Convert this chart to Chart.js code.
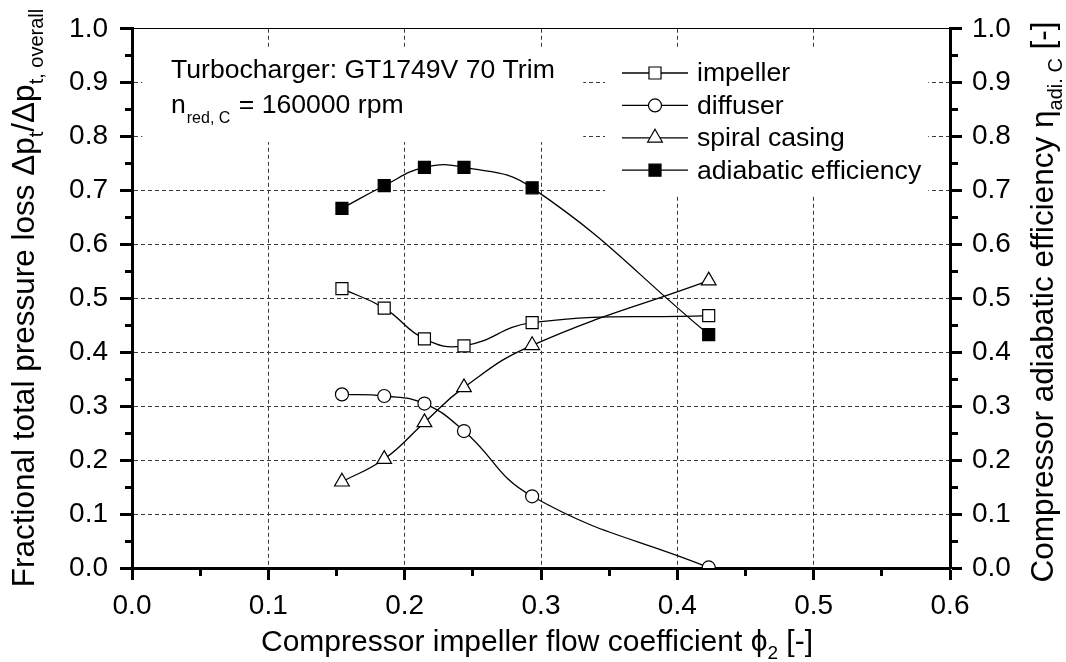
<!DOCTYPE html>
<html>
<head>
<meta charset="utf-8">
<script src="https://cdn.jsdelivr.net/npm/chart.js@4"></script>
<style>
  html, body { margin: 0; padding: 0; background: #fff; }
  #wrap { width: 1066px; height: 662px; }
</style>
</head>
<body>
<div id="wrap"><canvas id="lossChart" width="1066" height="662"></canvas></div>
<script>
// flow coefficient phi_2 of the measured operating points
var phi = [0.154, 0.185, 0.2145, 0.2435, 0.2935, 0.423];
// fractional total pressure loss per component
var impeller = [0.518, 0.482, 0.425, 0.412, 0.455, 0.468];
var diffuser = [0.322, 0.319, 0.305, 0.254, 0.133, 0.001];
var spiral = [0.160, 0.202, 0.270, 0.335, 0.413, 0.533];
// compressor adiabatic efficiency (right axis)
var efficiency = [0.667, 0.709, 0.743, 0.743, 0.705, 0.433];

var xTicks = [0, 0.1, 0.2, 0.3, 0.4, 0.5, 0.6];
var yTicks = [0, 0.1, 0.2, 0.3, 0.4, 0.5, 0.6, 0.7, 0.8, 0.9, 1.0];

var FONT = '"Liberation Sans", Arial, sans-serif';

function pts(ys) {
    return phi.map((x, i) => ({ x: x, y: ys[i] }));
}

function isMajor(v) {
    return Math.abs(v * 10 - Math.round(v * 10)) < 1e-6;
}

// major tick: full length; minor tick: only the part next to the axis
var TL = 12;
function tickDash(ctx, side) {
    if (isMajor(ctx.tick.value)) return [];
    if (side === 'left') return [0, TL - 7, 6, 100];
    return [6, 100];
}

function axisOpts(side, gridOn) {
    return {
        type: 'linear',
        position: side,
        min: 0,
        max: side === 'bottom' ? 0.6 : 1.0,
        afterBuildTicks: function (scale) {
            var t = [];
            var n = side === 'bottom' ? 12 : 20;
            for (var i = 0; i <= n; i++) t.push({ value: +(i * 0.05).toFixed(2) });
            scale.ticks = t;
        },
        ticks: {
            autoSkip: false,
            maxRotation: 0,
            color: '#000',
            padding: side === 'bottom' ? 9 : (side === 'left' ? 12 : 10),
            font: { family: FONT, size: 28 },
            callback: function (v) {
                var list = side === 'bottom' ? xTicks : yTicks;
                var hit = list.find(t => Math.abs(t - v) < 1e-6);
                return hit === undefined ? '' : hit.toFixed(1);
            }
        },
        grid: {
            drawOnChartArea: gridOn,
            color: function (ctx) {
                var v = ctx.tick.value;
                if (!isMajor(v)) return 'rgba(0,0,0,0)';
                if (side === 'bottom' && (v < 0.01 || v > 0.59)) return 'rgba(0,0,0,0)';
                if (side !== 'bottom' && v < 0.01) return 'rgba(0,0,0,0)';
                if (side !== 'bottom' && v > 0.99) return '#000';
                return '#3a3a3a';
            },
            lineWidth: 1,
            tickColor: '#000',
            tickWidth: 3,
            tickLength: TL,
            tickBorderDash: function (ctx) { return tickDash(ctx, side); }
        },
        border: {
            display: true,
            color: '#000',
            width: 3,
            dash: function (ctx) {
                if (side !== 'bottom' && ctx.tick && ctx.tick.value > 0.99) return [];
                return [4, 3];
            }
        },
        afterFit: function (scale) {
            if (side === 'bottom') scale.height = 94;
            if (side === 'left') scale.width = 132;
            if (side === 'right') scale.width = 116;
        }
    };
}

var series = [
    { label: 'impeller', data: impeller, style: 'rect', r: 8.5, fill: '#fff', axis: 'y' },
    { label: 'diffuser', data: diffuser, style: 'circle', r: 6.5, fill: '#fff', axis: 'y' },
    { label: 'spiral casing', data: spiral, style: 'triangle', r: 8.5, fill: '#fff', axis: 'y' },
    { label: 'adiabatic efficiency', data: efficiency, style: 'rect', r: 8.5, fill: '#000', axis: 'y2' }
];

// draw text runs with subscripts; rot = true writes bottom to top
function drawRich(ctx, runs, cx, cy, size, rot, subRatio) {
    var subSize = Math.round(size * (subRatio || 0.62));
    var w = 0;
    runs.forEach(r => {
        ctx.font = (r[1] ? subSize : size) + 'px ' + FONT;
        r.w = ctx.measureText(r[0]).width;
        w += r.w;
    });
    ctx.save();
    ctx.translate(cx, cy);
    if (rot) ctx.rotate(-Math.PI / 2);
    ctx.fillStyle = '#000';
    ctx.textBaseline = 'alphabetic';
    var x = -w / 2;
    runs.forEach(r => {
        ctx.font = (r[1] ? subSize : size) + 'px ' + FONT;
        ctx.fillText(r[0], x, r[1] ? size * 0.28 : 0);
        x += r.w;
    });
    ctx.restore();
}

var overlay = {
    id: 'overlay',
    beforeDatasetsDraw: function (chart) {
        var ctx = chart.ctx;
        var xs = chart.scales.x, ys = chart.scales.y;
        ctx.save();
        // white boxes behind the note and the legend
        ctx.fillStyle = '#fff';
        ctx.fillRect(xs.getPixelForValue(0.0075), ys.getPixelForValue(0.965),
            xs.getPixelForValue(0.331) - xs.getPixelForValue(0.0075), ys.getPixelForValue(0.79) - ys.getPixelForValue(0.965));
        ctx.fillRect(xs.getPixelForValue(0.347), ys.getPixelForValue(0.965),
            xs.getPixelForValue(0.584) - xs.getPixelForValue(0.347), ys.getPixelForValue(0.69) - ys.getPixelForValue(0.965));

        // note
        ctx.fillStyle = '#000';
        ctx.textAlign = 'left';
        ctx.textBaseline = 'alphabetic';
        ctx.font = '26.6px ' + FONT;
        var nx = 171;
        ctx.fillText('Turbocharger: GT1749V 70 Trim', nx, 78);
        ctx.fillText('n', nx, 113);
        var nw = ctx.measureText('n').width;
        ctx.font = '16px ' + FONT;
        ctx.fillText('red, C', nx + nw + 1, 123);
        var sw = ctx.measureText('red, C').width;
        ctx.font = '26.6px ' + FONT;
        ctx.fillText(' = 160000 rpm', nx + nw + sw + 2, 113);

        // legend
        series.forEach(function (s, i) {
            var cy = 73 + i * 32.4;
            ctx.strokeStyle = '#000';
            ctx.lineWidth = 1.3;
            ctx.beginPath();
            ctx.moveTo(622, cy);
            ctx.lineTo(688, cy);
            ctx.stroke();
            ctx.fillStyle = s.fill;
            ctx.lineWidth = 1.2;
            Chart.helpers.drawPoint(ctx, { pointStyle: s.style, radius: s.r, rotation: 0, borderWidth: 1.2 }, 655, cy);
            ctx.fillStyle = '#000';
            ctx.font = '26.6px ' + FONT;
            ctx.textBaseline = 'middle';
            ctx.fillText(s.label, 697, cy + 1);
        });
        ctx.restore();
    },
    afterDraw: function (chart) {
        var ctx = chart.ctx;
        var a = chart.chartArea;
        drawRich(ctx, [['Fractional total pressure loss \u0394p', 0], ['t', 1], ['/\u0394p', 0], ['t, overall', 1]], 34, 298, 31.5, true, 0.64);
        drawRich(ctx, [['Compressor adiabatic efficiency \u03b7', 0], ['adi. C', 1], [' [-]', 0]], 1053, 302, 31.5, true, 0.64);
        drawRich(ctx, [['Compressor impeller flow coefficient \u03d5', 0], ['2', 1], [' [-]', 0]], (a.left + a.right) / 2 - 4, 651, 30, false);
    }
};

var ctx = document.getElementById('lossChart').getContext('2d');
var chart = new Chart(ctx, {
    type: 'line',
    data: {
        datasets: series.map(s => ({
            label: s.label,
            data: pts(s.data),
            yAxisID: s.axis,
            borderColor: '#000',
            borderWidth: 1.3,
            tension: 0.45,
            pointStyle: s.style,
            pointRadius: s.r,
            pointHoverRadius: s.r,
            pointBackgroundColor: s.fill,
            pointBorderColor: '#000',
            pointBorderWidth: 1.2,
            fill: false
        }))
    },
    options: {
        responsive: false,
        animation: false,
        layout: { padding: { top: 24, left: 0, right: 0, bottom: 0 } },
        scales: {
            x: axisOpts('bottom', true),
            y: axisOpts('left', true),
            y2: axisOpts('right', false)
        },
        plugins: {
            legend: { display: false },
            tooltip: { enabled: false }
        }
    },
    plugins: [overlay]
});
</script>
</body>
</html>
